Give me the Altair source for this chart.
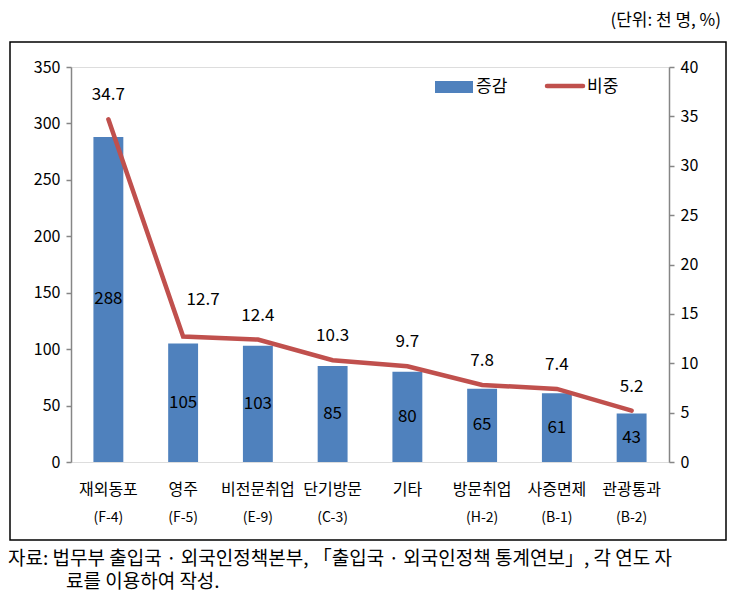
import altair as alt
import pandas as pd

categories = ["재외동포", "영주", "비전문취업", "단기방문", "기타", "방문취업", "사증면제", "관광통과"]
codes = ["(F-4)", "(F-5)", "(E-9)", "(C-3)", "", "(H-2)", "(B-1)", "(B-2)"]
increase = [288, 105, 103, 85, 80, 65, 61, 43]
share = [34.7, 12.7, 12.4, 10.3, 9.7, 7.8, 7.4, 5.2]

FONT = "Noto Sans CJK KR"
BLUE = "#4F81BD"
RED = "#C0504D"
AX = "#868686"
W, H = 598, 395

df = pd.DataFrame({"cat": categories, "code": codes, "inc": increase, "share": share})
one = pd.DataFrame({"a": [0]})

xenc = alt.X("cat:N", sort=categories,
             scale=alt.Scale(paddingInner=0.6, paddingOuter=0.3),
             axis=alt.Axis(labels=False, title=None, domainColor=AX, tickColor=AX,
                           tickSize=5, bandPosition=0, domainWidth=1.5, tickWidth=1.5))
xenc_noaxis = alt.X("cat:N", sort=categories, axis=None)

bar = alt.Chart(df).mark_bar(color=BLUE).encode(
    x=xenc,
    y=alt.Y("inc:Q", scale=alt.Scale(domain=[0, 350], nice=False),
            axis=alt.Axis(values=list(range(0, 351, 50)), title=None, grid=False,
                          domainColor=AX, tickColor=AX, tickSize=5, domainWidth=1.5,
                          tickWidth=1.5, labelFontSize=16, labelPadding=6,
                          labelColor="black", labelFont=FONT)),
)
bar_text = alt.Chart(df).transform_calculate(mid="datum.inc / 2").mark_text(
    fontSize=17, font=FONT, color="black", baseline="middle").encode(
    x=xenc_noaxis, y=alt.Y("mid:Q"), text=alt.Text("inc:Q"))
name_text = alt.Chart(df).mark_text(fontSize=16, font=FONT, color="black", baseline="middle").encode(
    x=xenc_noaxis, y=alt.value(H + 28), text="cat:N")
code_text = alt.Chart(df).mark_text(fontSize=14, font=FONT, color="black", baseline="middle").encode(
    x=xenc_noaxis, y=alt.value(H + 56), text="code:N")

bars = alt.layer(bar, bar_text, name_text, code_text)

line = alt.Chart(df).mark_line(color=RED, strokeWidth=4.5, strokeCap="round").encode(
    x=xenc_noaxis,
    y=alt.Y("share:Q", scale=alt.Scale(domain=[0, 40], nice=False),
            axis=alt.Axis(orient="right", values=list(range(0, 41, 5)), title=None, grid=False,
                          domainColor=AX, tickColor=AX, tickSize=5, domainWidth=1.5,
                          tickWidth=1.5, labelFontSize=16, labelPadding=6,
                          labelColor="black", labelFont=FONT)),
)
line_text = alt.Chart(df).transform_filter(alt.datum.cat != "영주").mark_text(
    fontSize=17, font=FONT, color="black", baseline="middle", dy=-24).encode(
    x=xenc_noaxis, y="share:Q", text=alt.Text("share:Q", format=".1f"))
line_text2 = alt.Chart(df).transform_filter(alt.datum.cat == "영주").mark_text(
    fontSize=17, font=FONT, color="black", baseline="middle", dy=-37, dx=20).encode(
    x=xenc_noaxis, y="share:Q", text=alt.Text("share:Q", format=".1f"))

lines = alt.layer(line, line_text, line_text2)

frame = alt.Chart(one).mark_rect(fill=None, stroke="black", strokeWidth=1.5).encode(
    x=alt.value(-61), x2=alt.value(655), y=alt.value(-25), y2=alt.value(473))

unit = alt.Chart(one).mark_text(fontSize=17, font=FONT, color="black", align="right",
                                baseline="middle").encode(
    x=alt.value(650), y=alt.value(-46), text=alt.value("(단위: 천 명, %)"))

foot1 = alt.Chart(one).mark_text(fontSize=19, font=FONT, color="black", align="left",
                                 baseline="middle").encode(
    x=alt.value(-63), y=alt.value(492),
    text=alt.value("자료: 법무부 출입국 · 외국인정책본부, 「출입국 · 외국인정책 통계연보」, 각 연도 자"))
foot2 = alt.Chart(one).mark_text(fontSize=19, font=FONT, color="black", align="left",
                                 baseline="middle").encode(
    x=alt.value(-5), y=alt.value(515), text=alt.value("료를 이용하여 작성."))

leg_rect = alt.Chart(one).mark_rect(color=BLUE).encode(
    x=alt.value(364), x2=alt.value(402), y=alt.value(14), y2=alt.value(26))
leg_t1 = alt.Chart(one).mark_text(fontSize=17, font=FONT, color="black", align="left",
                                  baseline="middle").encode(
    x=alt.value(405), y=alt.value(20), text=alt.value("증감"))
leg_line = alt.Chart(one).mark_rule(color=RED, strokeWidth=4.5, strokeCap="round").encode(
    x=alt.value(476), x2=alt.value(512), y=alt.value(19))
leg_t2 = alt.Chart(one).mark_text(fontSize=17, font=FONT, color="black", align="left",
                                  baseline="middle").encode(
    x=alt.value(516), y=alt.value(20), text=alt.value("비중"))

chart = alt.layer(
    bars, lines, frame, unit, foot1, foot2, leg_rect, leg_t1, leg_line, leg_t2
).resolve_scale(y="independent").properties(
    width=W, height=H,
    autosize=alt.AutoSizeParams(type="none"),
    padding={"left": 63, "top": 59, "right": 59, "bottom": 133},
).configure_view(stroke=None).configure(font=FONT)

chart.save("out.html", embed_options={"renderer": "svg", "actions": False})
